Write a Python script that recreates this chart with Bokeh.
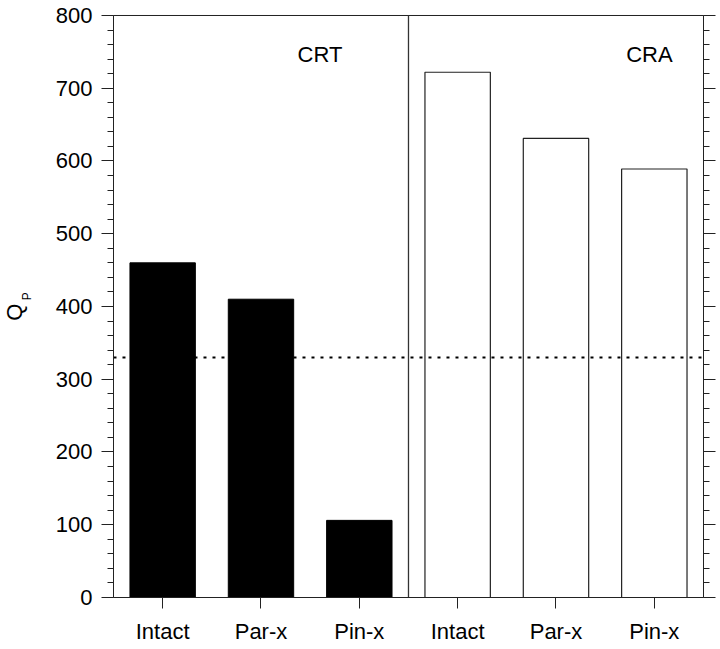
import math
from bokeh.plotting import figure
from bokeh.models import (Range1d, FixedTicker, SingleIntervalTicker, LinearAxis,
                          Label)
from bokeh.embed import file_html
from bokeh.resources import INLINE

# ---- data ----
treatments = ["Intact", "Par-x", "Pin-x"]
groups = ["CRT", "CRA"]
crt_qp = [460, 410, 106]
cra_qp = [722, 631, 589]
reference_qp = 330
y_min, y_max = 0, 800

FONT = "Liberation Sans"
AX = "#222222"

n = len(treatments)
crt_x = list(range(n))
cra_x = [i + n for i in range(n)]
all_x = crt_x + cra_x
x_labels = {i: t for i, t in zip(all_x, treatments + treatments)}
x_lo, x_hi = -0.5, 2 * n - 0.5

# The frame covers the whole canvas; the axes are pinned to the plotting box
# so that the axis title (Q with subscript P) can sit inside the frame.
p = figure(width=720, height=649, output_backend="svg", toolbar_location=None,
           x_range=Range1d(-1.649, 5.673), y_range=Range1d(-71.5, 820.6),
           min_border_left=0, min_border_right=0, min_border_top=0,
           min_border_bottom=0)
p.background_fill_color = "white"
p.border_fill_color = "white"
p.outline_line_color = None
p.grid.visible = False


def style_y(ax, labels=True):
    ax.bounds = (y_min, y_max)
    ax.ticker = SingleIntervalTicker(interval=100, num_minor_ticks=5)
    ax.major_tick_out = 12
    ax.major_tick_in = 0
    ax.minor_tick_out = 6
    ax.minor_tick_in = 0
    ax.axis_line_color = AX
    ax.major_tick_line_color = AX
    ax.minor_tick_line_color = AX
    if labels:
        ax.major_label_standoff = 9
        ax.major_label_text_font = FONT
        ax.major_label_text_font_size = "22px"
        ax.major_label_text_color = "black"
    else:
        ax.major_label_text_font_size = "1px"
        ax.major_label_text_color = None
        ax.major_label_standoff = 0


# left axis
ya = p.yaxis[0]
ya.fixed_location = x_lo
style_y(ya)

# right axis (ticks only)
ra = LinearAxis(fixed_location=x_hi)
style_y(ra, labels=False)
p.add_layout(ra, "right")

# bottom axis
xa = p.xaxis[0]
xa.fixed_location = y_min
xa.bounds = (x_lo, x_hi)
xa.ticker = FixedTicker(ticks=all_x)
xa.major_label_overrides = x_labels
xa.major_tick_out = 11
xa.major_tick_in = 0
xa.minor_tick_line_color = None
xa.major_label_standoff = 11
xa.major_label_text_font = FONT
xa.major_label_text_font_size = "22px"
xa.major_label_text_color = "black"
xa.axis_line_color = AX
xa.major_tick_line_color = AX

# top border of the plotting box
p.segment(x0=[x_lo], x1=[x_hi], y0=[y_max], y1=[y_max],
          line_color=AX, line_width=1)

# bars
p.vbar(x=crt_x, top=crt_qp, bottom=0, width=0.665,
       fill_color="black", line_color="black", line_width=1)
p.vbar(x=cra_x, top=cra_qp, bottom=0, width=0.665,
       fill_color="white", line_color=AX, line_width=1.2)

# separator between groups
p.segment(x0=[n - 0.5], x1=[n - 0.5], y0=[y_min], y1=[y_max],
          line_color="#333333", line_width=1.3)

# reference dotted line
p.segment(x0=[x_lo], x1=[x_hi], y0=[reference_qp], y1=[reference_qp],
          line_color="black", line_width=2, line_dash="3 6")

# group labels
for gi, g in enumerate(groups):
    p.add_layout(Label(x=gi * n + 1.6 + (0.35 if gi == 1 else 0), y=747, text=g,
                       text_font=FONT, text_font_size="22px",
                       text_align="center", text_baseline="middle",
                       text_color="black"))

# y axis title: Q with subscript P
p.add_layout(Label(x=-1.507, y=392, text="Q", angle=math.pi / 2,
                   text_font=FONT, text_font_size="22px",
                   text_align="center", text_baseline="middle",
                   text_color="black"))
p.add_layout(Label(x=-1.38, y=414, text="P", angle=math.pi / 2,
                   text_font=FONT, text_font_size="12px",
                   text_align="center", text_baseline="middle",
                   text_color="black"))

open("out.html", "w").write(file_html(p, INLINE))
